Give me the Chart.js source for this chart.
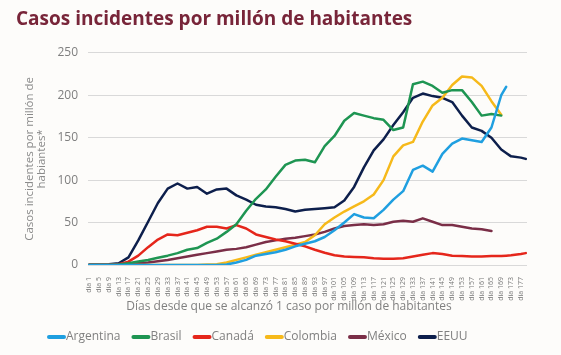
<!DOCTYPE html>
<html><head><meta charset="utf-8">
<script src="https://cdn.jsdelivr.net/npm/chart.js@4"></script>
<style>html,body{margin:0;padding:0;background:#fdfcfa;} canvas{display:block;}</style>
</head><body>
<canvas id="c" width="561" height="355"></canvas>
<script>
// Day numbers at which values were read
const days = [1,5,9,13,17,21,25,29,33,37,41,45,49,53,57,61,65,69,73,77,81,85,89,93,97,101,105,109,113,117,121,125,129,133,137,141,145,149,153,157,161,165,169,171,173,177,179];
// Tick labels shown on the x axis (every 4 days)
const tickDays = [1,5,9,13,17,21,25,29,33,37,41,45,49,53,57,61,65,69,73,77,81,85,89,93,97,101,105,109,113,117,121,125,129,133,137,141,145,149,153,157,161,165,169,173,177];
const yTicks = [0,50,100,150,200,250];

const argentina = [0,0,0,0,0,0,0,0,0,0,0,0,0,0,0.5,3,6,11,13,15,18,22,25,28,33,41,50,60,56,55,65,77,87,112,117,110,131,143,149,147,145,162,200,210,null,null,null];
const brasil = [0,0,0,0.5,2,4,6,8.5,11,14,18,20,26,31,39,48,64,78,89,104,118,123,124,121,140,152,170,179,176,173,171,159,162,213,216,211,203,206,206,192,176,178,176,null,null,null,null];
const canada = [0,0,0,1,4,11,21,30,36,35,38,41,45,45,43,47,43,36,33,30,28,25,22,18,14.5,11.5,10,9.5,9,8,7.5,7.5,8,10,12,14,13,11,10.5,10,10,10.5,10.5,11,11.5,13,14];
const colombia = [0,0,0,0,0,0,0,0,0,0,0,0,0.5,1,3,6,9,12,15,18,21,24,27,35,48,56,63,69,75,83,100,128,141,145,169,188,197,212,222,221,211,193,177,null,null,null,null];
const mexico = [0,0,0,0,1,2,3,4.5,6,8,10,12,14,16,18,19,21,24,27,29,31,32,34,36,39,43,46,47,48,47,48,51,52,51,55,51,47,47,45,43,42,40,null,null,null,null,null];
const eeuu = [0.5,0.5,1,2,9,29,51,73,90,96,90,92,84,89,90,82,77,71,69,68,66,63,65,66,67,68,76,92,115,135,148,165,180,197,202,199,197,192,176,162,158,150,136,132,128,126.5,125];

const seriesNames = ['Argentina','Brasil','Canadá','Colombia','México','EEUU'];
const seriesValues = [argentina, brasil, canada, colombia, mexico, eeuu];
const seriesColors = ['#1f9fe0','#1e9552','#e5261b','#f6b91a','#7a2e47','#0d1f4c'];

Chart.defaults.font.family = '"Open Sans", sans-serif';

const extras = {
  id: 'extras',
  afterDraw(chart) {
    const ctx = chart.ctx;
    ctx.save();
    // x axis title
    ctx.font = '12px "Open Sans", sans-serif';
    ctx.fillStyle = '#808080';
    ctx.textAlign = 'center';
    ctx.textBaseline = 'middle';
    ctx.fillText('Días desde que se alcanzó 1 caso por millón de habitantes', 289, 307);
    // legend
    let x = 47; const y = 337;
    ctx.textAlign = 'left';
    chart.data.datasets.forEach(ds => {
      ctx.strokeStyle = ds.borderColor;
      ctx.lineWidth = 4;
      ctx.lineCap = 'round';
      ctx.beginPath();
      ctx.moveTo(x + 2, y);
      ctx.lineTo(x + 17, y);
      ctx.stroke();
      ctx.fillStyle = '#808080';
      ctx.fillText(ds.label, x + 19, y);
      x += 19 + ctx.measureText(ds.label).width + 11;
    });
    ctx.restore();
  }
};

new Chart(document.getElementById('c'), {
  type: 'line',
  data: {
    datasets: seriesNames.map((name, k) => ({
      label: name,
      data: days.map((d, i) => ({x: d, y: seriesValues[k][i]})).filter(p => p.y !== null),
      borderColor: seriesColors[k],
      backgroundColor: seriesColors[k],
      borderWidth: 2.5,
      pointRadius: 0,
      tension: 0,
      borderJoinStyle: 'round',
      borderCapStyle: 'round'
    }))
  },
  options: {
    responsive: false,
    animation: false,
    layout: {padding: {left: 16, right: 34, top: 0, bottom: 34}},
    plugins: {
      legend: {display: false},
      tooltip: {enabled: false},
      title: {
        display: true,
        text: 'Casos incidentes por millón de habitantes',
        align: 'start',
        color: '#782539',
        font: {size: 19, weight: 'bold'},
        padding: {top: 8, bottom: 22}
      }
    },
    scales: {
      x: {
        type: 'linear', min: 0.5, max: 179.5,
        grid: {display: false}, border: {display: false},
        afterBuildTicks: s => { s.ticks = tickDays.map(v => ({value: v})); },
        afterFit: s => { s.height = 56; },
        ticks: {autoSkip: false, minRotation: 90, maxRotation: 90, padding: 4, color: '#7a7a7a',
          font: {size: 7}, callback: v => 'día ' + v}
      },
      y: {
        min: 0, max: 250,
        afterBuildTicks: s => { s.ticks = yTicks.map(v => ({value: v})); },
        afterFit: s => { s.width = 72; },
        ticks: {padding: 10, color: '#7f7f7f', font: {size: 12}},
        grid: {color: '#d9d9d9', drawTicks: false},
        border: {display: false},
        title: {display: true, text: ['Casos incidentes por millón de', 'habiantes*'], color: '#8a8a8a',
          font: {size: 11.5, lineHeight: 1.1}, padding: {top: 7, bottom: 0}}
      }
    }
  },
  plugins: [extras]
});
</script>
</body></html>
